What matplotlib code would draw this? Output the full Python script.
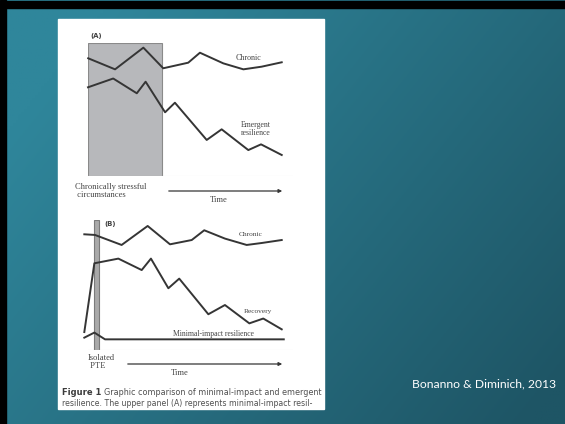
import numpy as np
import matplotlib.pyplot as plt
from matplotlib.patches import Rectangle

# panel A (time 0-100, level 0-100)
t_chronic_a = [0.1, 13.2, 27.0, 36.7, 48.9, 54.6, 66.0, 75.8, 84.7, 94.5]
v_chronic_a = [88.5, 80.2, 96.5, 81.0, 85.2, 92.7, 84.7, 80.2, 82.2, 85.5]
t_emergent_a = [0.0, 12.3, 23.8, 28.1, 37.6, 42.4, 57.9, 65.2, 78.2, 84.4, 94.5]
v_emergent_a = [66.7, 73.3, 62.2, 70.9, 47.9, 55.1, 27.1, 35.1, 19.5, 23.8, 15.8]
stress_period = (0, 36)

# panel B
t_chronic_b = [-1.8, 3.4, 16.4, 29.1, 40.0, 50.6, 56.7, 66.8, 77.4, 84.7, 94.5]
v_chronic_b = [89.0, 88.5, 80.8, 95.4, 81.3, 84.6, 92.1, 85.7, 80.8, 82.3, 84.6]
t_recovery_b = [-1.8, 3.1, 14.8, 26.2, 30.7, 39.2, 44.5, 58.7, 66.8, 78.7, 85.5, 94.5]
v_recovery_b = [13.8, 66.7, 70.3, 61.5, 70.3, 47.5, 54.9, 27.5, 34.6, 20.5, 24.2, 15.9]
t_minimal_b = [-1.8, 3.1, 8.3, 95.5]
v_minimal_b = [9.5, 13.4, 8.2, 8.2]
pte_period = (2.9, 5.5)

caption_1 = "Graphic comparison of minimal-impact and emergent"
caption_2 = "resilience. The upper panel (A) represents minimal-impact resil-"

W, H = 565, 424
fig = plt.figure(figsize=(W / 100, H / 100), dpi=100)

# slide background in pixel coordinates
bg = fig.add_axes([0, 0, 1, 1])
bg.set_xlim(0, W)
bg.set_ylim(H, 0)
bg.axis("off")
xx, yy = np.meshgrid(np.linspace(0, 1, 200), np.linspace(0, 1, 150))
tt = np.clip(0.75 * xx + 0.45 * yy - 0.15, 0, 1)
c0 = np.array([0x2f, 0x86, 0x9b]) / 255
c1 = np.array([0x1e, 0x55, 0x65]) / 255
img = c0[None, None, :] * (1 - tt[..., None]) + c1[None, None, :] * tt[..., None]
bg.imshow(img, extent=[0, W, H, 0], aspect="auto", zorder=0)
bg.add_patch(Rectangle((0, 1), W, 7, color="black", zorder=1))
bg.add_patch(Rectangle((0, 0), 6, H, color="black", zorder=1))
bg.add_patch(Rectangle((58, 19), 266, 390, color="white", zorder=1))

ink = "#353535"
txt = "#444444"
serif = "Liberation Serif"


def panel(top, bottom):
    return fig.add_axes([88 / W, 1 - bottom / H, 205 / W, (bottom - top) / H])


# ---- panel A ----
axa = panel(43, 176)
axa.set_xlim(0, 100)
axa.set_ylim(0, 100)
axa.axis("off")
axa.axvspan(*stress_period, color="#b7b8bb", ec="#8a8a8a", lw=0.8)
axa.axhline(0, color="#dcdcdc", lw=0.8)
axa.plot(t_chronic_a, v_chronic_a, color=ink, lw=1.4, clip_on=False)
axa.plot(t_emergent_a, v_emergent_a, color=ink, lw=1.4, clip_on=False)

bg.text(90, 36, "(A)", fontsize=5, fontweight="bold", color=txt, va="center")
bg.text(248, 58, "Chronic", fontsize=5.8, family=serif, color=txt, ha="center", va="center")
bg.text(256, 129, "Emergent\nresilience", fontsize=5.6, family=serif, color=txt,
        ha="center", va="center", linespacing=1.1)
bg.text(75, 191, "Chronically stressful\n circumstances", fontsize=6.1, family=serif,
        color=txt, va="center", linespacing=1.0)
bg.annotate("", xy=(285, 191), xytext=(166, 191),
            arrowprops=dict(arrowstyle="-|>", color=ink, lw=0.9, mutation_scale=5))
bg.text(219, 200, "Time", fontsize=6.1, family=serif, color=txt, ha="center", va="center")

# ---- panel B ----
axb = panel(220, 350)
axb.set_xlim(0, 100)
axb.set_ylim(0, 100)
axb.axis("off")
axb.axvspan(*pte_period, color="#a9a9a9", ec="#7a7a7a", lw=0.8)
axb.axhline(0, color="#dcdcdc", lw=0.8)
axb.plot(t_chronic_b, v_chronic_b, color=ink, lw=1.4, clip_on=False)
axb.plot(t_recovery_b, v_recovery_b, color=ink, lw=1.4, clip_on=False)
axb.plot(t_minimal_b, v_minimal_b, color=ink, lw=1.4, clip_on=False)

bg.text(104, 224, "(B)", fontsize=5, fontweight="bold", color=txt, va="center")
bg.text(251, 235, "Chronic", fontsize=5.3, family=serif, color=txt, ha="center", va="center")
bg.text(258, 312, "Recovery", fontsize=5.3, family=serif, color=txt, ha="center", va="center")
bg.text(213, 334, "Minimal-impact resilience", fontsize=5.5, family=serif, color=txt,
        ha="center", va="center")
bg.text(88, 362, "Isolated\n PTE", fontsize=6.1, family=serif, color=txt, va="center",
        linespacing=1.0)
bg.annotate("", xy=(285, 364), xytext=(125, 364),
            arrowprops=dict(arrowstyle="-|>", color=ink, lw=0.9, mutation_scale=5))
bg.text(180, 373, "Time", fontsize=6.1, family=serif, color=txt, ha="center", va="center")

# caption, widths fitted to the page column
r = fig.canvas.get_renderer()
fs = 6.0
lab = bg.text(62, 392.5, "Figure 1", fontsize=fs, family="DejaVu Sans", fontweight="bold",
              color="#3c3c3c", va="center")
x1 = lab.get_window_extent(r).x1 + 3
c1t = bg.text(x1, 392.5, caption_1, fontsize=fs, family="DejaVu Sans", color="#505050",
              va="center")
c2t = bg.text(62, 403, caption_2, fontsize=fs, family="DejaVu Sans", color="#505050",
              va="center")
w1 = c1t.get_window_extent(r).width
c1t.set_fontsize(fs * (321 - x1) / w1)
w2 = c2t.get_window_extent(r).width
c2t.set_fontsize(fs * (314 - 62) / w2)

bg.text(412, 384, "Bonanno & Diminich, 2013", fontsize=8.7, family="Lato",
        color="white", va="center")

fig.savefig("out.png", dpi=100)
